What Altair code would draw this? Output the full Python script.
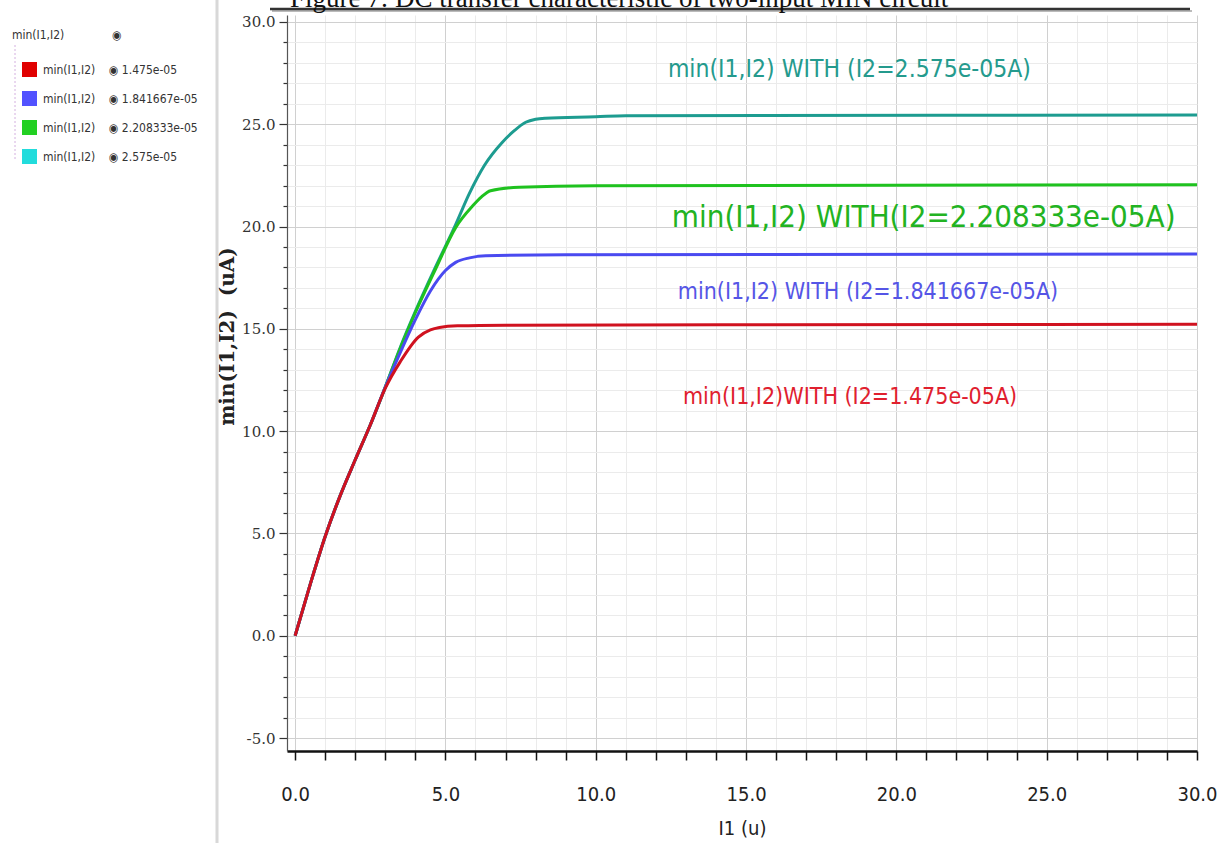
import altair as alt
import pandas as pd

# ---- sweep data: min(I1, I2) output current (uA) vs. input I1 (uA) ----
i1_red = [0, 0.5, 1.0, 1.5, 2.0, 2.5, 3.0, 3.5, 4.1, 4.5, 4.8, 5.4, 7.0, 15.0, 30.0]
out_red = [0, 2.5, 4.85, 6.85, 8.6, 10.3, 12.1, 13.4, 14.6, 14.95, 15.07, 15.15, 15.18, 15.2, 15.22]

i1_blue = [0, 0.5, 1.0, 1.5, 2.0, 2.5, 3.0, 3.5, 4.0, 4.5, 5.0, 5.34, 5.8, 6.34, 9.0, 30.0]
out_blue = [0, 2.5, 4.85, 6.85, 8.6, 10.3, 12.15, 13.85, 15.45, 16.85, 17.85, 18.25, 18.47, 18.57, 18.62, 18.66]

i1_green = [0, 0.5, 1.0, 1.5, 2.0, 2.5, 3.0, 3.5, 4.0, 4.68, 5.34, 5.9, 6.2, 6.5, 7.45, 10.0, 30.0]
out_green = [0, 2.5, 4.85, 6.85, 8.6, 10.3, 12.15, 14.05, 15.8, 17.95, 19.95, 21.0, 21.45, 21.75, 21.92, 22.0, 22.04]

i1_teal = [0, 0.5, 1.0, 1.5, 2.0, 2.5, 3.0, 3.5, 4.0, 4.68, 5.34, 5.79, 6.3, 6.88, 7.3, 7.67, 8.0, 8.33, 10.0, 11.0, 30.0]
out_teal = [0, 2.5, 4.85, 6.85, 8.6, 10.3, 12.15, 14.1, 15.85, 18.05, 20.1, 21.6, 23.0, 24.1, 24.7, 25.1, 25.25, 25.3, 25.37, 25.42, 25.45]

# I2 parameter values of the sweep
i2_values = ["1.475e-05", "1.841667e-05", "2.208333e-05", "2.575e-05"]
line_colors = ["#d0121f", "#4a4af0", "#1fc21f", "#1d9c90"]
legend_colors = ["#e00000", "#5252ff", "#22d022", "#22dcdc"]

# in-plot annotations (text, I1 position, output position, size, colour)
note_text = [
    "min(I1,I2) WITH (I2=2.575e-05A)",
    "min(I1,I2) WITH(I2=2.208333e-05A)",
    "min(I1,I2) WITH (I2=1.841667e-05A)",
    "min(I1,I2)WITH (I2=1.475e-05A)",
]
note_x = [12.40, 12.53, 12.73, 12.90]
note_y = [27.65, 20.42, 16.80, 11.67]
note_size = [24.5, 31, 23, 23]
note_color = ["#249a8d", "#22b322", "#5555e6", "#e0202e"]

NB = "\u00a0"
series_names = [f"min(I1,I2){NB * 4}\u25c9 {v}" for v in i2_values]

# long table, drawn teal first so red ends on top
rows = []
for name, xs, ys in [
    (series_names[3], i1_teal, out_teal),
    (series_names[2], i1_green, out_green),
    (series_names[1], i1_blue, out_blue),
    (series_names[0], i1_red, out_red),
]:
    for xv, yv in zip(xs, ys):
        rows.append({"series": name, "I1": xv, "out": yv})
df = pd.DataFrame(rows)

notes = pd.DataFrame({"text": note_text, "x": note_x, "y": note_y,
                      "size": note_size, "color": note_color})
one = pd.DataFrame({"k": [0]})

NARROW = "DejaVu Sans Condensed, Liberation Sans Narrow, sans-serif"
major = "datum.value % 5 === 0"
major_label = f"{major} ? replace(format(datum.value, '.1f'), '\u2212', '-') : ''"

x_scale = alt.Scale(domain=[-0.27, 30], nice=False, zero=False)
y_scale = alt.Scale(domain=[-5.635, 30.342], nice=False, zero=False)

x_axis = alt.Axis(
    values=list(range(0, 31)),
    labelExpr=major_label,
    title="I1 (u)",
    grid=True,
    gridColor={"condition": {"test": major, "value": "#d0d0d0"}, "value": "#ebebeb"},
    gridWidth=1,
    domainColor="#111111", domainWidth=2.5,
    tickColor="#111111", tickSize=9, tickWidth=1.5,
    labelFont=NARROW, labelFontSize=20, labelColor="#222222",
    labelPadding=24, labelFlush=False, labelOverlap=False, labelBound=False,
    titleFont=NARROW, titleFontSize=20, titleFontWeight="normal",
    titleColor="#222222", titlePadding=14,
)

y_axis = alt.Axis(
    values=list(range(-5, 31)),
    labelExpr=major_label,
    title=f"min(I1,I2){NB}{NB}(uA)",
    grid=True,
    gridColor={"condition": {"test": major, "value": "#d0d0d0"}, "value": "#ebebeb"},
    gridWidth=1,
    domainColor="#555555", domainWidth=1.2,
    tickColor="#333333", tickWidth=1.2,
    tickSize={"condition": {"test": major, "value": 8}, "value": 4},
    labelFont="DejaVu Serif", labelFontSize=15, labelColor="#333333",
    labelPadding=4, labelFlush=False, labelOverlap=False, labelBound=False,
    titleFont="DejaVu Serif", titleFontSize=20, titleFontWeight="bold",
    titleColor="#222222", titleAngle=270, titleAlign="center",
    titleBaseline="alphabetic", titleX=-54, titleY=321,
)

X = dict(scale=x_scale, axis=x_axis)
Y = dict(scale=y_scale, axis=y_axis)

base = alt.Chart(df)

lines = base.mark_line(strokeWidth=3, interpolate="monotone").encode(
    x=alt.X("I1:Q", **X),
    y=alt.Y("out:Q", **Y),
    color=alt.Color("series:N", scale=alt.Scale(domain=series_names, range=line_colors),
                    legend=None),
)

# invisible squares that carry the series legend
legend_layer = base.mark_square(opacity=0).encode(
    x=alt.X("I1:Q", **X),
    y=alt.Y("out:Q", **Y),
    color=alt.Color(
        "series:N",
        scale=alt.Scale(domain=series_names, range=legend_colors),
        sort=series_names,
        legend=alt.Legend(
            orient="none", legendX=-275, legendY=15,
            title=f"min(I1,I2){NB * 14}\u25c9",
            titleFont=NARROW, titleFontSize=12, titleFontWeight="normal",
            titleColor="#333333", titlePadding=20, titleLimit=300,
            symbolType="square", symbolSize=225, symbolOpacity=1,
            symbolStrokeWidth=0, symbolOffset=10,
            labelFont=NARROW, labelFontSize=12, labelColor="#333333",
            labelOffset=6, labelLimit=300, rowPadding=14, padding=0,
        ),
    ),
)

labels = alt.Chart(notes).mark_text(align="left", baseline="middle", font=NARROW).encode(
    x=alt.X("x:Q", **X),
    y=alt.Y("y:Q", **Y),
    text="text:N",
    size=alt.Size("size:Q", scale=None, legend=None),
    color=alt.Color("color:N", scale=None, legend=None),
)

# figure caption and its rule above the plot
caption = alt.Chart(one).mark_text(
    text="Figure 7: DC transfer characteristic of two-input MIN circuit",
    font="Liberation Serif", fontSize=27, align="left", baseline="alphabetic",
    color="#111111",
).encode(x=alt.value(3), y=alt.value(-8))

caption_rule = alt.Chart(one).mark_rule(color="#333333", strokeWidth=2.5).encode(
    x=alt.value(-17), x2=alt.value(903), y=alt.value(-6))
caption_shadow = alt.Chart(one).mark_rule(color="#bbbbbb", strokeWidth=2).encode(
    x=alt.value(-15), x2=alt.value(905), y=alt.value(-4))

# panel separator and legend tree guide
separator = alt.Chart(one).mark_rule(color="#d8d8d8", strokeWidth=3).encode(
    x=alt.value(-70), y=alt.value(-15), y2=alt.value(828))
tree = alt.Chart(one).mark_rule(color="#d4b0e0", strokeWidth=1, strokeDash=[2, 2]).encode(
    x=alt.value(-272), y=alt.value(30), y2=alt.value(145))

chart = (
    alt.layer(lines, separator, tree, caption_shadow, caption_rule, caption,
              legend_layer, labels)
    .resolve_scale(color="independent")
    .properties(
        width=910, height=736,
        autosize=alt.AutoSizeParams(type="none"),
        padding={"left": 287, "top": 15, "right": 26, "bottom": 92},
        background="white",
    )
    .configure_view(strokeWidth=0)
)

chart.save("out.html", embed_options={"renderer": "svg", "actions": False})
